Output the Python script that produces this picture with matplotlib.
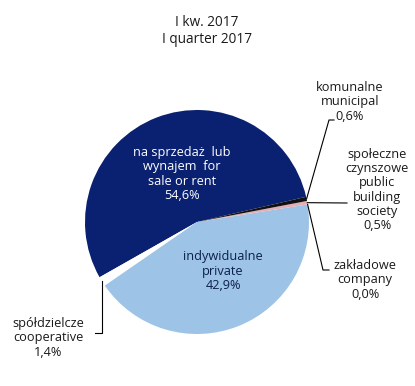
import numpy as np
import matplotlib.pyplot as plt

# data
labels = ["na sprzedaż  lub\nwynajem  for\nsale or rent",
          "spółdzielcze\ncooperative",
          "indywidualne\nprivate",
          "zakładowe\ncompany",
          "społeczne\nczynszowe\npublic\nbuilding\nsociety",
          "komunalne\nmunicipal"]
values = [54.6, 1.4, 42.9, 0.0, 0.5, 0.6]
colors = ["#0a2070", "#ffffff", "#9dc3e6", "#9dc3e6", "#e3aeb6", "#111111"]

plt.rcParams['font.family'] = ['Open Sans', 'DejaVu Sans']

fig = plt.figure(figsize=(4.15, 3.86), dpi=100)
ax = fig.add_axes([0, 0, 1, 1])

H = 386
cx, cy, r = 197, H - 222, 112
wedges, _ = ax.pie(values, colors=colors, startangle=13, counterclock=True,
                   radius=r, center=(cx, cy), frame=True)
ax.set_xlim(0, 415)
ax.set_ylim(0, 386)
ax.axis('off')


def fmt(v):
    return f"{v:.1f}".replace('.', ',') + "%"


def edge_point(i):
    w = wedges[i]
    a = np.deg2rad((w.theta1 + w.theta2) / 2)
    return cx + r * np.cos(a), cy + r * np.sin(a)


fs = 9.2
tc = '#1a1a1a'
ax.text(207, H - 31, "I kw. 2017\nI quarter 2017", ha='center', va='center',
        fontsize=9.8, linespacing=1.15, color=tc)

# inside labels
ax.text(182, H - 174, labels[0] + "\n" + fmt(values[0]), ha='center', va='center',
        color='white', fontsize=fs, linespacing=1.15)
ax.text(223, H - 271, labels[2] + "\n" + fmt(values[2]), ha='center', va='center',
        color='#0c1f4e', fontsize=fs, linespacing=1.15)

# outside labels with leader lines
# komunalne
x0, y0 = edge_point(5)
ax.plot([x0, 329, 334], [y0, H - 120, H - 120], color='black', lw=0.8)
ax.text(350, H - 102, labels[5] + "\n" + fmt(values[5]), ha='center', va='center',
        fontsize=fs, linespacing=1.15, color=tc)
# spoleczne
x0, y0 = edge_point(4)
ax.plot([x0, 347], [y0, H - 203], color='black', lw=0.8)
ax.text(377, H - 190, labels[4] + "\n" + fmt(values[4]), ha='center', va='center',
        fontsize=fs, linespacing=1.12, color=tc)
# zakladowe
x0, y0 = edge_point(3)
ax.plot([x0, 323, 329], [y0, H - 270, H - 270], color='black', lw=0.8)
ax.text(365, H - 280, labels[3] + "\n" + fmt(values[3]), ha='center', va='center',
        fontsize=fs, linespacing=1.15, color=tc)
# spoldzielcze
ax.plot([102, 102, 95], [H - 281, H - 333, H - 333], color='black', lw=0.8)
ax.text(48, H - 338, labels[1] + "\n" + fmt(values[1]), ha='center', va='center',
        fontsize=fs, linespacing=1.15, color=tc)

fig.savefig("out.png", dpi=100)
